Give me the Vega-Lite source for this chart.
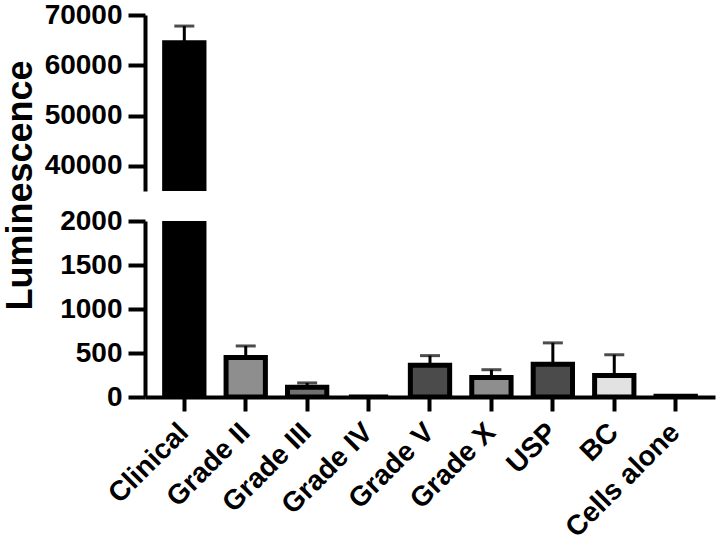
{
  "$schema": "https://vega.github.io/schema/vega-lite/v6.json",
  "background": "white",
  "padding": {"left": 2, "top": 1, "right": 5, "bottom": 2},
  "bounds": "flush",
  "spacing": 30,
  "config": {
    "view": {"stroke": null},
    "font": "Liberation Sans",
    "axis": {
      "domainColor": "black",
      "domainWidth": 4,
      "tickColor": "black",
      "tickWidth": 4,
      "labelColor": "black",
      "labelFont": "Liberation Sans",
      "labelFontWeight": "bold",
      "titleFont": "Liberation Sans",
      "titleFontWeight": "bold",
      "titleColor": "black",
      "grid": false
    }
  },
  "datasets": {
    "lum": [
      {"group": "Clinical", "mean": 64500, "upper": 67800},
      {"group": "Grade II", "mean": 450, "upper": 580},
      {"group": "Grade III", "mean": 110, "upper": 160},
      {"group": "Grade IV", "mean": 0, "upper": 0},
      {"group": "Grade V", "mean": 360, "upper": 470},
      {"group": "Grade X", "mean": 222, "upper": 310},
      {"group": "USP", "mean": 372, "upper": 615},
      {"group": "BC", "mean": 245, "upper": 480},
      {"group": "Cells alone", "mean": 8, "upper": 8}
    ]
  },
  "vconcat": [
    {
      "width": 570,
      "height": 176,
      "data": {"name": "lum"},
      "transform": [{"filter": "datum.group == 'Clinical'"}],
      "encoding": {
        "x": {
          "field": "group", "type": "nominal", "sort": null,
          "scale": {"domain": ["Clinical", "Grade II", "Grade III", "Grade IV", "Grade V", "Grade X", "USP", "BC", "Cells alone"], "paddingInner": 0.36, "paddingOuter": 0.32},
          "axis": null
        }
      },
      "layer": [
        {
          "mark": {"type": "bar", "clip": true, "fill": "black", "stroke": "black", "strokeWidth": 5},
          "encoding": {
            "y": {
              "field": "mean", "type": "quantitative",
              "scale": {"domain": [35000, 70000], "nice": false, "zero": false},
              "axis": {"values": [40000, 50000, 60000, 70000], "format": "d", "labelFontSize": 28, "tickSize": 17, "labelPadding": 6, "title": null}
            }
          }
        },
        {
          "mark": {"type": "rule", "color": "black", "strokeWidth": 3},
          "encoding": {"y": {"field": "mean", "type": "quantitative"}, "y2": {"field": "upper"}}
        },
        {
          "mark": {"type": "tick", "color": "black", "size": 20, "thickness": 3},
          "encoding": {"y": {"field": "upper", "type": "quantitative"}}
        }
      ]
    },
    {
      "width": 570,
      "height": 176,
      "data": {"name": "lum"},
      "encoding": {
        "x": {
          "field": "group", "type": "nominal", "sort": null,
          "scale": {"domain": ["Clinical", "Grade II", "Grade III", "Grade IV", "Grade V", "Grade X", "USP", "BC", "Cells alone"], "paddingInner": 0.36, "paddingOuter": 0.32},
          "axis": {"title": null, "labelAngle": -45, "labelAlign": "right", "labelBaseline": "middle", "labelFontSize": 28, "tickSize": 14, "labelPadding": 17}
        }
      },
      "layer": [
        {
          "mark": {"type": "bar", "clip": true, "stroke": "black", "strokeWidth": 5},
          "encoding": {
            "y": {
              "field": "mean", "type": "quantitative",
              "scale": {"domain": [0, 2000], "nice": false},
              "axis": {"values": [0, 500, 1000, 1500, 2000], "format": "d", "labelFontSize": 28, "tickSize": 17, "labelPadding": 6, "title": "Luminescence", "titleFontSize": 36, "titleX": -125, "titleY": -36, "titleAlign": "center", "titleBaseline": "middle", "titleAngle": -90}
            },
            "fill": {
              "field": "group", "type": "nominal", "legend": null,
              "scale": {"domain": ["Clinical", "Grade II", "Grade III", "Grade IV", "Grade V", "Grade X", "USP", "BC", "Cells alone"], "range": ["#000000", "#8e8e8e", "#6f6f6f", "#6f6f6f", "#4b4b4b", "#8e8e8e", "#4b4b4b", "#e2e2e2", "#bdbdbd"]}
            }
          }
        },
        {
          "transform": [{"filter": "datum.group != 'Clinical' && datum.upper > datum.mean"}],
          "mark": {"type": "rule", "color": "black", "strokeWidth": 3},
          "encoding": {"y": {"field": "mean", "type": "quantitative"}, "y2": {"field": "upper"}}
        },
        {
          "transform": [{"filter": "datum.group != 'Clinical' && datum.upper > datum.mean"}],
          "mark": {"type": "tick", "color": "black", "size": 20, "thickness": 3},
          "encoding": {"y": {"field": "upper", "type": "quantitative"}}
        }
      ]
    }
  ]
}
